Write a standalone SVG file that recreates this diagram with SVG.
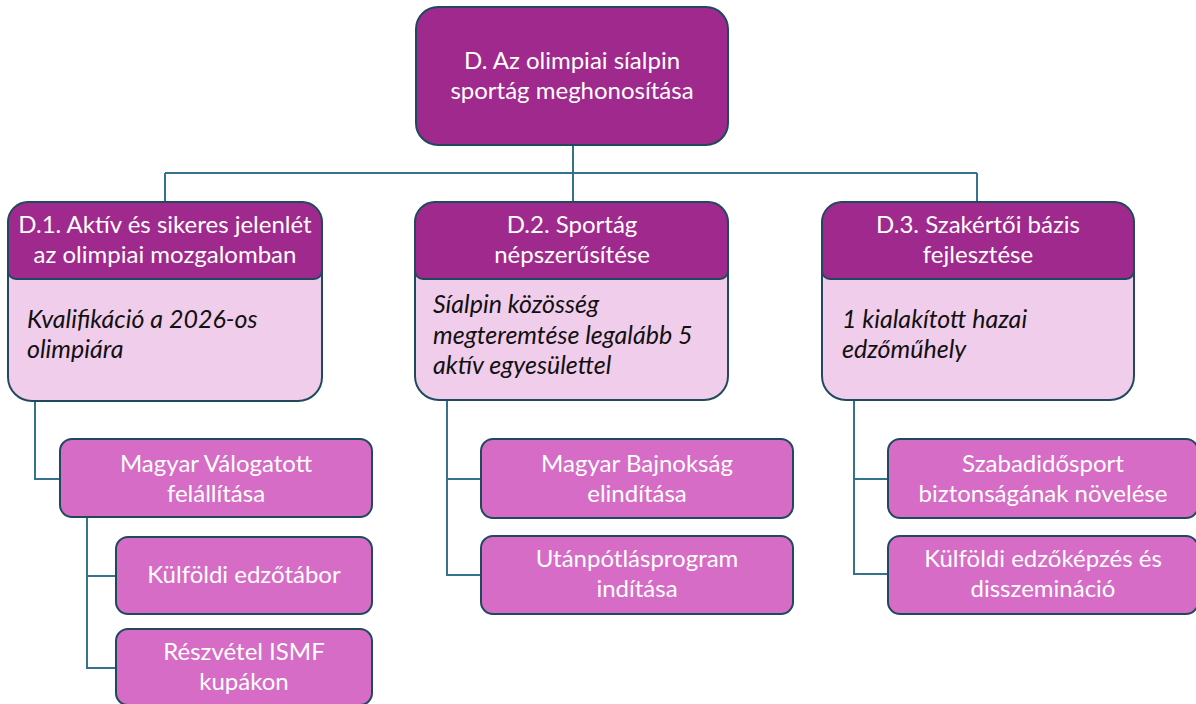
<svg xmlns="http://www.w3.org/2000/svg" width="1196" height="704" viewBox="0 0 1196 704">
<style>
.hdr{fill:#A0298E;stroke:#1F4A5E;stroke-width:2}
.body{fill:#F1CDEC;stroke:#1F4A5E;stroke-width:2}
.leaf{fill:#D66CC6;stroke:#1F4A5E;stroke-width:2}
.ln{fill:none;stroke:#35728E;stroke-width:2}
text{font-family:Lato,"Liberation Sans",sans-serif;font-size:24px}
.w{fill:#FFFFFF;text-anchor:middle}
.it{fill:#111111;font-style:italic;font-size:25px}
</style>
<rect width="1196" height="704" fill="#FFFFFF"/>
<g id="connectors">
<path class="ln" d="M573 145V203M165 173H977M165 173V203M977 173V203"/>
<path class="ln" d="M35 401V479H60M87 513V668H116M87 576H116"/>
<path class="ln" d="M447 400V575H481M447 479H481"/>
<path class="ln" d="M854 400V574H888M854 479H888"/>
</g>
<g id="root">
<rect class="hdr" x="416" y="7" width="312" height="138" rx="22"/>
<text class="w" x="572" y="69">D. Az olimpiai síalpin</text>
<text class="w" x="572" y="99">sportág meghonosítása</text>
</g>
<g id="d1">
<rect class="body" x="8" y="202" width="314" height="199" rx="24"/>
<path class="hdr" d="M8 279V222A20 20 0 0 1 28 202H302A20 20 0 0 1 322 222V271A8 8 0 0 1 314 279H16A8 8 0 0 1 8 271Z"/>
<text class="w" x="165" y="233">D.1. Aktív és sikeres jelenlét</text>
<text class="w" x="165" y="263">az olimpiai mozgalomban</text>
<text class="it" x="27" y="328">Kvalifikáció a 2026-os</text>
<text class="it" x="27" y="358">olimpiára</text>
</g>
<g id="d2">
<rect class="body" x="415" y="202" width="313" height="198" rx="24"/>
<path class="hdr" d="M415 279V222A20 20 0 0 1 435 202H708A20 20 0 0 1 728 222V271A8 8 0 0 1 720 279H423A8 8 0 0 1 415 271Z"/>
<text class="w" x="572" y="233">D.2. Sportág</text>
<text class="w" x="572" y="263">népszerűsítése</text>
<text class="it" x="433" y="313">Síalpin közösség</text>
<text class="it" x="433" y="344">megteremtése legalább 5</text>
<text class="it" x="433" y="374">aktív egyesülettel</text>
</g>
<g id="d3">
<rect class="body" x="822" y="202" width="312" height="198" rx="24"/>
<path class="hdr" d="M822 279V222A20 20 0 0 1 842 202H1114A20 20 0 0 1 1134 222V271A8 8 0 0 1 1126 279H830A8 8 0 0 1 822 271Z"/>
<text class="w" x="978" y="233">D.3. Szakértői bázis</text>
<text class="w" x="978" y="263">fejlesztése</text>
<text class="it" x="842" y="328">1 kialakított hazai</text>
<text class="it" x="842" y="358">edzőműhely</text>
</g>
<g id="d1a">
<rect class="leaf" x="60" y="439" width="312" height="78" rx="12"/>
<text class="w" x="216" y="472">Magyar Válogatott</text>
<text class="w" x="216" y="502">felállítása</text>
</g>
<g id="d1a1">
<rect class="leaf" x="116" y="537" width="256" height="77" rx="12"/>
<text class="w" x="244" y="583">Külföldi edzőtábor</text>
</g>
<g id="d1a2">
<rect class="leaf" x="116" y="629" width="256" height="76" rx="12"/>
<text class="w" x="244" y="660">Részvétel ISMF</text>
<text class="w" x="244" y="690">kupákon</text>
</g>
<g id="d2a">
<rect class="leaf" x="481" y="439" width="312" height="79" rx="12"/>
<text class="w" x="637" y="472">Magyar Bajnokság</text>
<text class="w" x="637" y="502">elindítása</text>
</g>
<g id="d2b">
<rect class="leaf" x="481" y="536" width="312" height="78" rx="12"/>
<text class="w" x="637" y="567">Utánpótlásprogram</text>
<text class="w" x="637" y="597">indítása</text>
</g>
<g id="d3a">
<rect class="leaf" x="888" y="439" width="310" height="79" rx="12"/>
<text class="w" x="1043" y="472">Szabadidősport</text>
<text class="w" x="1043" y="502">biztonságának növelése</text>
</g>
<g id="d3b">
<rect class="leaf" x="888" y="536" width="310" height="78" rx="12"/>
<text class="w" x="1043" y="567">Külföldi edzőképzés és</text>
<text class="w" x="1043" y="597">disszemináció</text>
</g>
</svg>
